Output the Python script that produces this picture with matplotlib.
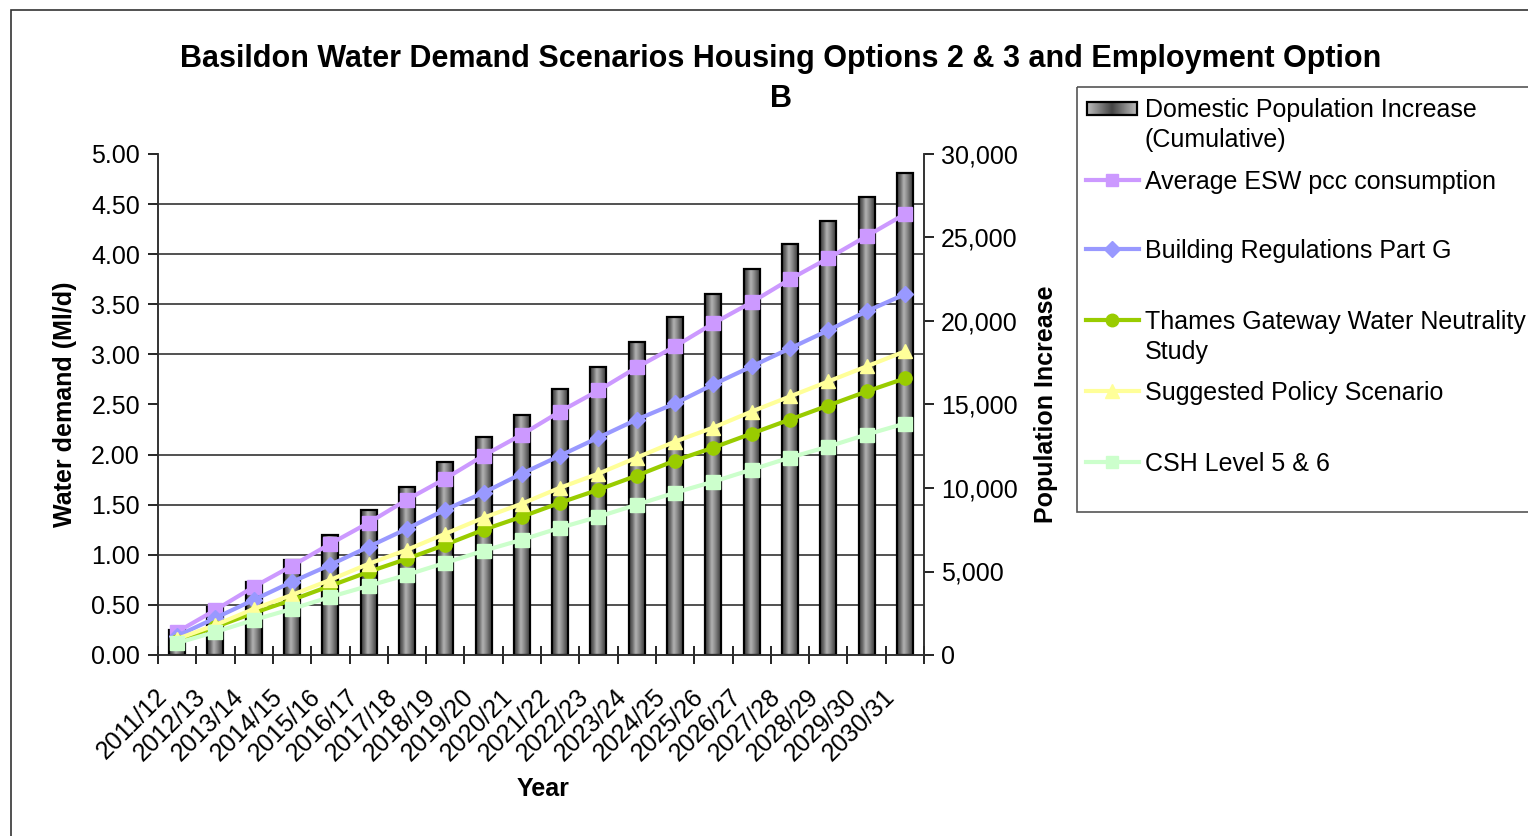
import numpy as np
import matplotlib
matplotlib.use('Agg')
import matplotlib.pyplot as plt
from matplotlib.ticker import MultipleLocator, FuncFormatter
from matplotlib.patches import Rectangle
from matplotlib.colors import LinearSegmentedColormap
import matplotlib.transforms as mtransforms

plt.rcParams['font.family'] = ['Liberation Sans', 'DejaVu Sans']

# Financial years
years = ['2011/12', '2012/13', '2013/14', '2014/15', '2015/16', '2016/17', '2017/18',
         '2018/19', '2019/20', '2020/21', '2021/22', '2022/23', '2023/24', '2024/25',
         '2025/26', '2026/27', '2027/28', '2028/29', '2029/30', '2030/31']

# Cumulative domestic population increase (right axis)
population = [1500, 2900, 4350, 5700, 7200, 8680, 10050, 11550, 13050, 14400,
              15900, 17250, 18750, 20250, 21600, 23100, 24600, 26000, 27450, 28850]

# Water demand scenarios, Ml/d (left axis)
avg_esw = [0.23, 0.45, 0.68, 0.89, 1.11, 1.32, 1.55, 1.76, 1.99, 2.20,
           2.43, 2.64, 2.87, 3.08, 3.31, 3.52, 3.75, 3.96, 4.18, 4.40]
part_g = [0.19, 0.37, 0.55, 0.73, 0.90, 1.08, 1.26, 1.45, 1.62, 1.81,
          1.99, 2.17, 2.35, 2.51, 2.70, 2.88, 3.06, 3.24, 3.43, 3.60]
thames = [0.14, 0.28, 0.42, 0.55, 0.69, 0.83, 0.96, 1.10, 1.25, 1.38,
          1.52, 1.65, 1.79, 1.94, 2.07, 2.21, 2.35, 2.49, 2.63, 2.76]
policy = [0.16, 0.30, 0.46, 0.60, 0.75, 0.91, 1.05, 1.21, 1.37, 1.51,
          1.67, 1.81, 1.97, 2.13, 2.27, 2.43, 2.58, 2.73, 2.88, 3.03]
csh56 = [0.12, 0.23, 0.35, 0.46, 0.58, 0.69, 0.80, 0.92, 1.04, 1.15,
         1.27, 1.38, 1.50, 1.62, 1.73, 1.85, 1.97, 2.08, 2.20, 2.31]

bar_label = 'Domestic Population Increase\n(Cumulative)'
series = [
    ('Average ESW pcc consumption', avg_esw, '#CC99FF', 's'),
    ('Building Regulations Part G', part_g, '#9999FF', 'D'),
    ('Thames Gateway Water Neutrality\nStudy', thames, '#99CC00', 'o'),
    ('Suggested Policy Scenario', policy, '#FFFF99', '^'),
    ('CSH Level 5 & 6', csh56, '#CCFFCC', 's'),
]

FS = 18
W, H = 1528, 836
fig = plt.figure(figsize=(W / 100, H / 100), dpi=100)


def fx(px):
    return px / W


def fy(py):
    return 1 - py / H


# outer chart frame
fig.add_artist(Rectangle((fx(11), fy(900)), fx(1600), 890 / H, transform=fig.transFigure,
                         fill=False, edgecolor='#333333', lw=1.2))

ax = fig.add_axes([fx(158), fy(655), fx(924 - 158), (655 - 154) / H])
ax2 = ax.twinx()
ax.set_zorder(ax2.get_zorder() + 1)
ax.patch.set_visible(False)

x = np.arange(len(years))
bw = 0.42

# shaded cylinder-like bars
bar_cmap = LinearSegmentedColormap.from_list('bar', ['#3c3c3c', '#6a6a6a', '#b4b4b4', '#8c8c8c', '#5a5a5a', '#404040'])
grad = np.linspace(0, 1, 64).reshape(1, -1)
for xi, p in zip(x, population):
    ax2.imshow(grad, cmap=bar_cmap, extent=[xi - bw / 2, xi + bw / 2, 0, p],
               aspect='auto', interpolation='bicubic', zorder=2)
ax2.bar(x, population, bw, fill=False, edgecolor='black', lw=1.6, zorder=3)

MS = {'s': 9.5, 'D': 8.5, 'o': 9.5, '^': 10.5}
for label, vals, col, mk in series:
    ax.plot(x, vals, color=col, lw=3, marker=mk, ms=MS[mk], markeredgecolor=col, zorder=4)

ax.set_xlim(-0.5, len(years) - 0.5)
ax.set_ylim(0, 5)
ax2.set_ylim(0, 30000)

# gridlines belong to the bar axis so the bars sit over them
ax2.yaxis.set_minor_locator(MultipleLocator(3000))
ax2.grid(which='minor', axis='y', color='#222222', lw=1.1, zorder=0)
ax2.set_axisbelow(True)
ax2.tick_params(which='minor', axis='y', length=0)

ax.yaxis.set_major_locator(MultipleLocator(0.5))
ax.yaxis.set_major_formatter(FuncFormatter(lambda v, p: f'{v:.2f}'))
ax2.yaxis.set_major_locator(MultipleLocator(5000))
ax2.yaxis.set_major_formatter(FuncFormatter(lambda v, p: f'{int(v):,}'))

ax.set_xticks(x)
ax.set_xticklabels(years, rotation=45, ha='right', va='top', rotation_mode='anchor')
ax.set_xticks(np.arange(-0.5, len(years), 1.0), minor=True)
ax.tick_params(axis='x', which='major', length=0, pad=21, labelsize=FS)
ax.tick_params(axis='x', which='minor', direction='inout', length=13, width=1.2)
ax.tick_params(axis='y', direction='out', length=7, width=1.2, labelsize=FS, pad=6)
ax2.tick_params(axis='y', which='major', direction='out', length=7, width=1.2, labelsize=FS, pad=5)
shift = mtransforms.ScaledTranslation(-0.22, 0, fig.dpi_scale_trans)
for t in ax.get_xticklabels():
    t.set_transform(t.get_transform() + shift)

for a in (ax, ax2):
    a.spines['top'].set_visible(False)
    for s in ('left', 'right', 'bottom'):
        a.spines[s].set_color('#333333')
        a.spines[s].set_linewidth(1.2)

ax.set_ylabel('Water demand (Ml/d)', fontsize=FS, fontweight='bold', labelpad=10)
ax2.set_ylabel('Population Increase', fontsize=FS, fontweight='bold', labelpad=12)
fig.text(fx(543), fy(789), 'Year', ha='center', va='center', fontsize=FS, fontweight='bold')

fig.text(fx(781), fy(59), 'Basildon Water Demand Scenarios Housing Options 2 & 3 and Employment Option',
         ha='center', va='center', fontsize=22, fontweight='bold')
fig.text(fx(781), fy(99), 'B', ha='center', va='center', fontsize=22, fontweight='bold')

# legend panel drawn in pixel space
lg = fig.add_axes([0, 0, 1, 1], zorder=5)
lg.set_xlim(0, W)
lg.set_ylim(H, 0)
lg.axis('off')
lg.add_patch(Rectangle((1077, 87), 600, 425, fill=False, edgecolor='#555555', lw=1.2))
sw = LinearSegmentedColormap.from_list('sw', ['#bcbcbc', '#444444', '#bcbcbc'])
lg.imshow(np.linspace(0, 1, 64).reshape(1, -1), cmap=sw, extent=[1087, 1137, 115, 102],
          aspect='auto', interpolation='bicubic', zorder=6)
lg.add_patch(Rectangle((1087, 102), 50, 13, fill=False, edgecolor='black', lw=1.6, zorder=7))
lg.text(1145, 98, bar_label, ha='left', va='top', fontsize=FS, linespacing=1.3)
rows = [180, 249, 320, 391, 462]
for (label, vals, col, mk), yy in zip(series, rows):
    lg.plot([1086, 1139], [yy, yy], color=col, lw=3)
    lg.plot([1112], [yy], marker=mk, ms=MS[mk] - 0.5, color=col)
    lg.text(1145, yy - 10, label, ha='left', va='top', fontsize=FS, linespacing=1.3)

fig.savefig('out.png', dpi=100)
